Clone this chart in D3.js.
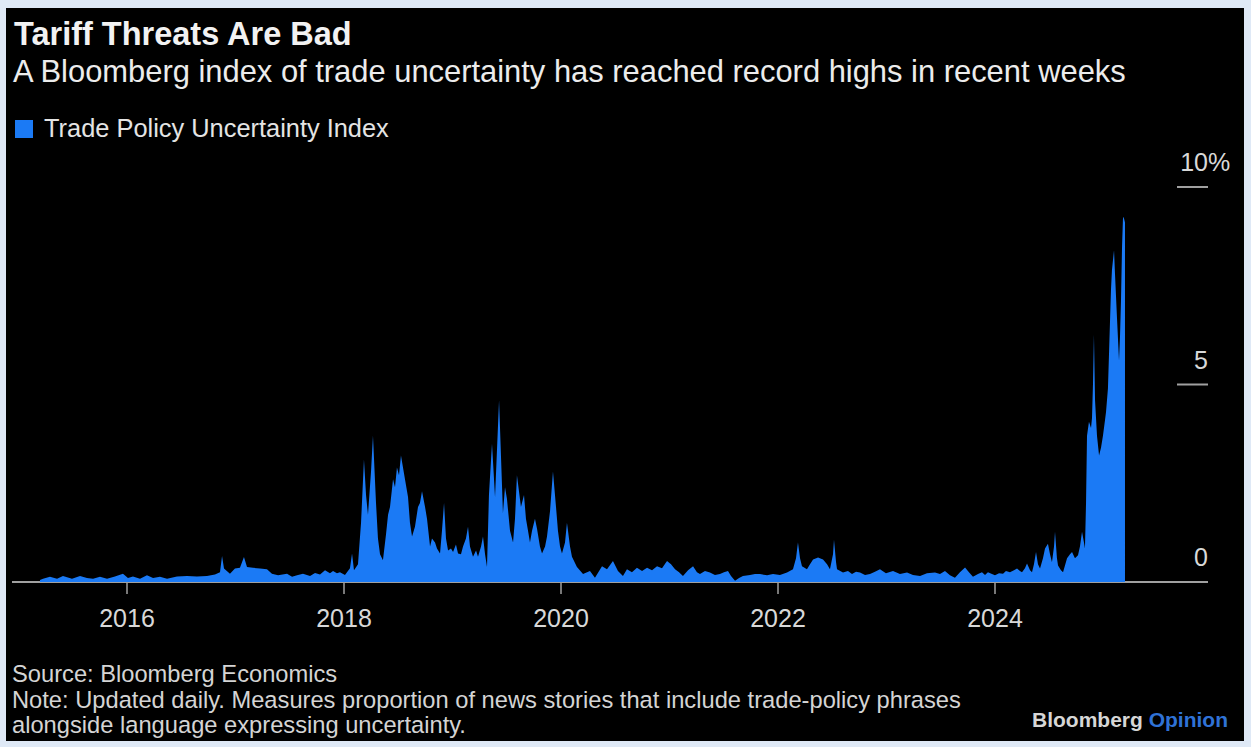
<!DOCTYPE html>
<html>
<head>
<meta charset="utf-8">
<script src="https://cdn.jsdelivr.net/npm/d3@7"></script>
<style>
  html, body { margin: 0; padding: 0; background: #dfe9f6; }
  svg { display: block; }
  text { font-family: "Liberation Sans", Arial, Helvetica, sans-serif; }
</style>
</head>
<body>
<svg id="chart" width="1251" height="747"></svg>
<script>
// Trade Policy Uncertainty Index, % of news stories (date as fractional year)
const dates = [
  // 2015 – 2017
  2015.198, 2015.226, 2015.290, 2015.355, 2015.410, 2015.493, 2015.567, 2015.631, 2015.687, 2015.751,
  2015.816, 2015.889, 2015.963, 2016.009, 2016.055, 2016.120, 2016.184, 2016.240, 2016.304, 2016.369,
  2016.461, 2016.553, 2016.645, 2016.737, 2016.811, 2016.857, 2016.876, 2016.894, 2016.949, 2016.995,
  2017.041, 2017.078, 2017.106, 2017.161, 2017.226, 2017.290, 2017.336, 2017.392, 2017.475, 2017.521,
  2017.567, 2017.622, 2017.687, 2017.733, 2017.779, 2017.825, 2017.871, 2017.899, 2017.935, 2017.963,
  // 2018 – 2019
  2018.009, 2018.055, 2018.074, 2018.092, 2018.129, 2018.157, 2018.184, 2018.203, 2018.221, 2018.249,
  2018.267, 2018.295, 2018.313, 2018.332, 2018.359, 2018.387, 2018.406, 2018.424, 2018.452, 2018.470,
  2018.488, 2018.507, 2018.525, 2018.562, 2018.590, 2018.608, 2018.627, 2018.654, 2018.682, 2018.700,
  2018.719, 2018.747, 2018.765, 2018.793, 2018.811, 2018.839, 2018.857, 2018.885, 2018.903, 2018.922,
  2018.940, 2018.959, 2018.986, 2019.005, 2019.032, 2019.051, 2019.078, 2019.097, 2019.124, 2019.143,
  2019.161, 2019.189, 2019.217, 2019.235, 2019.263, 2019.281, 2019.300, 2019.318, 2019.336, 2019.364,
  2019.392, 2019.429, 2019.465, 2019.484, 2019.502, 2019.530, 2019.558, 2019.576, 2019.594, 2019.631,
  2019.659, 2019.677, 2019.696, 2019.714, 2019.733, 2019.760, 2019.779, 2019.806, 2019.825, 2019.853,
  2019.871, 2019.899, 2019.926, 2019.954, 2019.972, 2019.991,
  // 2020 – 2023
  2020.009, 2020.037, 2020.055, 2020.083, 2020.101, 2020.147, 2020.203, 2020.267, 2020.313, 2020.378,
  2020.424, 2020.479, 2020.525, 2020.571, 2020.608, 2020.654, 2020.700, 2020.747, 2020.793, 2020.839,
  2020.885, 2020.931, 2020.977, 2021.014, 2021.051, 2021.088, 2021.124, 2021.171, 2021.217, 2021.253,
  2021.281, 2021.327, 2021.373, 2021.419, 2021.465, 2021.502, 2021.539, 2021.567, 2021.604, 2021.641,
  2021.677, 2021.742, 2021.788, 2021.834, 2021.899, 2021.954, 2022.018, 2022.083, 2022.138, 2022.166,
  2022.184, 2022.203, 2022.221, 2022.267, 2022.295, 2022.323, 2022.369, 2022.415, 2022.452, 2022.479,
  2022.507, 2022.516, 2022.535, 2022.544, 2022.599, 2022.645, 2022.682, 2022.719, 2022.756, 2022.802,
  2022.848, 2022.894, 2022.940, 2022.995, 2023.060, 2023.124, 2023.189, 2023.244, 2023.309, 2023.373,
  2023.447, 2023.493, 2023.539, 2023.585, 2023.631, 2023.677, 2023.724, 2023.760, 2023.797, 2023.843,
  2023.880, 2023.908, 2023.935, 2023.972,
  // 2024 – 2025
  2024.000, 2024.037, 2024.074, 2024.101, 2024.138, 2024.175, 2024.203, 2024.230, 2024.249, 2024.276,
  2024.295, 2024.323, 2024.341, 2024.359, 2024.378, 2024.396, 2024.415, 2024.442, 2024.461, 2024.488,
  2024.507, 2024.525, 2024.544, 2024.553, 2024.571, 2024.581, 2024.608, 2024.627, 2024.664, 2024.691,
  2024.710, 2024.737, 2024.765, 2024.783, 2024.802, 2024.820, 2024.829, 2024.839, 2024.848, 2024.866,
  2024.885, 2024.894, 2024.903, 2024.912, 2024.922, 2024.940, 2024.959, 2024.977, 2024.995, 2025.014,
  2025.023, 2025.041, 2025.051, 2025.069, 2025.078, 2025.097, 2025.106, 2025.124, 2025.143, 2025.152,
  2025.161, 2025.171, 2025.180, 2025.189, 2025.198
];
const values = [
  // 2015 – 2017
  0.05, 0.08, 0.13, 0.08, 0.15, 0.08, 0.15, 0.10, 0.08, 0.13,
  0.08, 0.14, 0.21, 0.10, 0.14, 0.08, 0.17, 0.10, 0.13, 0.08,
  0.14, 0.15, 0.14, 0.15, 0.19, 0.25, 0.66, 0.34, 0.21, 0.34,
  0.36, 0.63, 0.38, 0.36, 0.34, 0.32, 0.21, 0.17, 0.21, 0.13,
  0.17, 0.21, 0.15, 0.23, 0.19, 0.30, 0.22, 0.28, 0.22, 0.25,
  // 2018 – 2019
  0.18, 0.35, 0.72, 0.30, 0.45, 1.50, 3.10, 2.20, 1.70, 2.80,
  3.70, 2.00, 1.10, 0.70, 0.55, 1.20, 1.70, 1.90, 2.60, 2.40,
  2.90, 2.70, 3.20, 2.60, 2.15, 1.50, 1.15, 1.40, 1.90, 2.00,
  2.30, 1.90, 1.60, 0.90, 1.10, 1.00, 0.85, 0.72, 1.30, 2.00,
  1.10, 0.80, 0.85, 0.76, 0.95, 0.72, 0.70, 0.90, 1.10, 1.40,
  0.90, 0.64, 0.80, 0.64, 0.90, 1.15, 0.70, 0.38, 2.20, 3.50,
  2.15, 4.60, 1.75, 2.40, 2.10, 1.30, 1.00, 1.60, 2.70, 1.90,
  2.20, 1.60, 1.30, 1.00, 1.30, 1.60, 1.35, 0.90, 0.72, 0.90,
  1.15, 1.80, 2.80, 1.90, 1.30, 0.90,
  // 2020 – 2023
  0.72, 1.00, 1.50, 0.90, 0.64, 0.38, 0.20, 0.28, 0.11, 0.40,
  0.32, 0.53, 0.28, 0.15, 0.32, 0.25, 0.36, 0.28, 0.36, 0.30,
  0.40, 0.35, 0.53, 0.45, 0.32, 0.25, 0.15, 0.30, 0.40, 0.25,
  0.20, 0.28, 0.24, 0.18, 0.20, 0.25, 0.28, 0.15, 0.03, 0.10,
  0.15, 0.18, 0.20, 0.20, 0.17, 0.20, 0.18, 0.24, 0.32, 0.60,
  1.00, 0.60, 0.40, 0.32, 0.45, 0.57, 0.62, 0.57, 0.45, 0.32,
  0.70, 1.07, 0.50, 0.32, 0.24, 0.28, 0.20, 0.26, 0.24, 0.18,
  0.20, 0.26, 0.32, 0.22, 0.28, 0.20, 0.24, 0.18, 0.15, 0.22,
  0.24, 0.20, 0.28, 0.17, 0.11, 0.25, 0.37, 0.25, 0.13, 0.20,
  0.25, 0.18, 0.25, 0.20,
  // 2024 – 2025
  0.17, 0.22, 0.21, 0.28, 0.25, 0.30, 0.34, 0.28, 0.25, 0.35,
  0.47, 0.30, 0.25, 0.45, 0.76, 0.45, 0.34, 0.60, 0.85, 0.97,
  0.70, 0.50, 0.90, 1.27, 0.60, 0.42, 0.30, 0.25, 0.60, 0.70,
  0.76, 0.60, 0.68, 0.90, 1.27, 1.00, 0.85, 2.00, 3.70, 4.06,
  3.90, 4.15, 5.00, 6.26, 4.60, 3.70, 3.20, 3.40, 3.70, 4.10,
  4.30, 4.90, 5.80, 7.40, 7.90, 8.40, 7.80, 6.70, 5.60, 6.20,
  7.10, 8.50, 9.25, 9.20, 9.10
];
const yearTicks = [2016, 2018, 2020, 2022, 2024];
const valueTicks = [0, 5, 10];

const title = "Tariff Threats Are Bad";
const subtitle = "A Bloomberg index of trade uncertainty has reached record highs in recent weeks";
const seriesName = "Trade Policy Uncertainty Index";
const footLines = [
  "Source: Bloomberg Economics",
  "Note: Updated daily. Measures proportion of news stories that include trade-policy phrases",
  "alongside language expressing uncertainty."
];

const BLUE = "#1b7af5";
const AXIS = "#a0a0a0";

const svg = d3.select("#chart");

// dark panel
svg.append("rect")
  .attr("x", 6).attr("y", 8).attr("width", 1238).attr("height", 733)
  .attr("fill", "#000");

// headings
svg.append("text").attr("x", 14).attr("y", 45)
  .attr("font-size", 32.5).attr("font-weight", "bold").attr("fill", "#f2f2f2")
  .text(title);
svg.append("text").attr("x", 13).attr("y", 82)
  .attr("font-size", 30.9).attr("fill", "#ececec")
  .text(subtitle);

// legend
svg.append("rect").attr("x", 15).attr("y", 120).attr("width", 18).attr("height", 18)
  .attr("fill", BLUE);
svg.append("text").attr("x", 44).attr("y", 137)
  .attr("font-size", 25.4).attr("fill", "#e4e4e4")
  .text(seriesName);

// scales
const x = d3.scaleLinear().domain([2016, 2024]).range([127, 995]);
const y = d3.scaleLinear().domain([0, 10]).range([582, 187]);

const data = dates.map((d, i) => ({ t: d, v: values[i] }));

// zero line
svg.append("line")
  .attr("x1", 12).attr("x2", 1208)
  .attr("y1", y(0)).attr("y2", y(0))
  .attr("stroke", AXIS).attr("stroke-width", 2);

// x ticks and labels
const xg = svg.append("g");
xg.selectAll("line").data(yearTicks).join("line")
  .attr("x1", d => x(d)).attr("x2", d => x(d))
  .attr("y1", y(0) + 1).attr("y2", y(0) + 12)
  .attr("stroke", AXIS).attr("stroke-width", 1.5);
xg.selectAll("text").data(yearTicks).join("text")
  .attr("x", d => x(d)).attr("y", 627)
  .attr("text-anchor", "middle")
  .attr("font-size", 25).attr("fill", "#d8d8d8")
  .text(d => d3.format("d")(d));

// area
const area = d3.area()
  .x(d => x(d.t))
  .y0(y(0))
  .y1(d => y(d.v));
svg.append("path").datum(data)
  .attr("d", area)
  .attr("fill", BLUE);

// y ticks and labels on the right
const yg = svg.append("g");
yg.selectAll("line").data(valueTicks.filter(d => d > 0)).join("line")
  .attr("x1", 1177).attr("x2", 1208)
  .attr("y1", d => y(d)).attr("y2", d => y(d))
  .attr("stroke", AXIS).attr("stroke-width", 2);
yg.selectAll("text.num").data(valueTicks).join("text")
  .attr("class", "num")
  .attr("x", 1208).attr("y", d => y(d) - 16)
  .attr("text-anchor", "end")
  .attr("font-size", 25).attr("fill", "#d8d8d8")
  .text(d => d);
yg.append("text")
  .attr("x", 1208).attr("y", y(d3.max(valueTicks)) - 16)
  .attr("font-size", 25).attr("fill", "#d8d8d8")
  .text("%");

// footer
svg.append("g").selectAll("text").data(footLines).join("text")
  .attr("x", 12).attr("y", (d, i) => 682 + i * 25.5)
  .attr("font-size", 23.7).attr("fill", "#d4d4d4")
  .text(d => d);

// brand mark
const brand = svg.append("text").attr("x", 1032).attr("y", 727)
  .attr("font-size", 21).attr("font-weight", "bold");
brand.append("tspan").attr("fill", "#d6d6d6").text("Bloomberg ");
brand.append("tspan").attr("fill", "#2f72d6").text("Opinion");
</script>
</body>
</html>
